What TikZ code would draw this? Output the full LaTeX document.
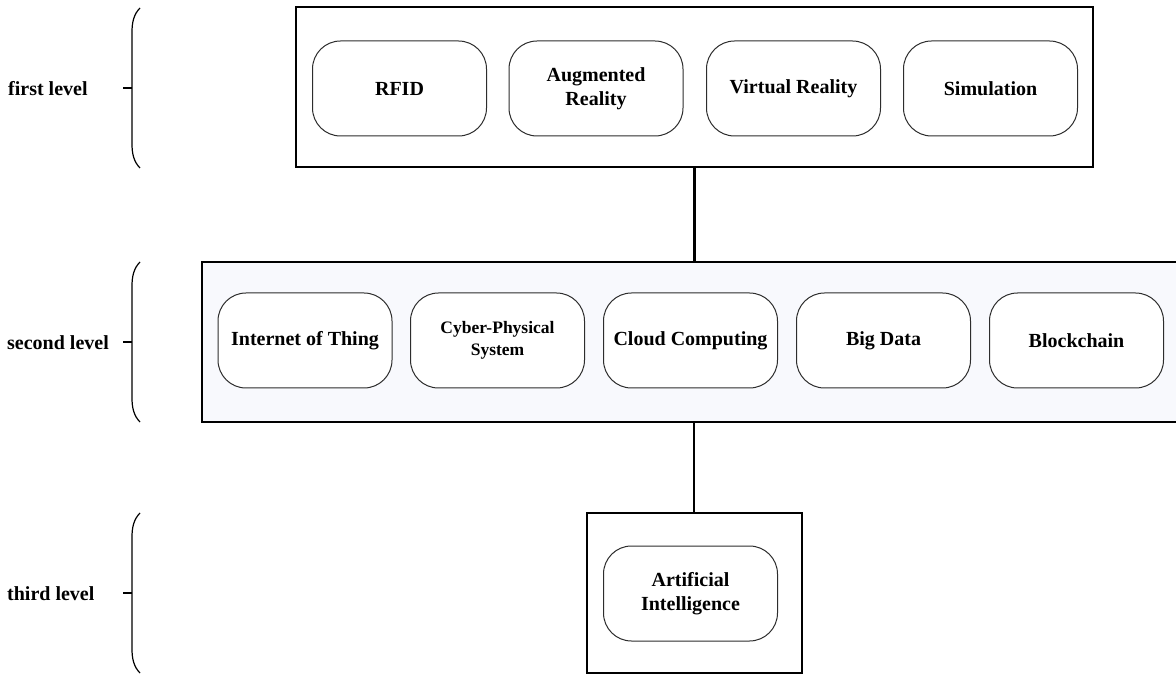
\documentclass[tikz,border=0pt]{standalone}
\usepackage{fontspec}
\setmainfont{Liberation Serif}
\definecolor{secbg}{RGB}{248,249,253}
\definecolor{boxline}{RGB}{45,45,45}
\begin{document}
\begin{tikzpicture}[x=1pt,y=-1pt,
  outerbox/.style={draw=black, line width=2pt, inner sep=0pt},
  techbox/.style={draw=boxline, line width=1pt, fill=white, rounded corners=28pt,
    minimum width=174pt, minimum height=95pt, align=center, inner sep=0pt,
    font=\bfseries\fontsize{20}{24}\selectfont},
  smalltext/.style={font=\bfseries\fontsize{17.5}{21.5}\selectfont},
  lvl/.style={anchor=west, inner sep=0pt, font=\bfseries\fontsize{20}{24}\selectfont},
  link/.style={line width=2.5pt},
  bracket/.style={line width=1.2pt}]
\clip (0,0) rectangle (1176,676);
\fill[white] (0,0) rectangle (1176,676);

% outer level boxes
\node[outerbox, minimum width=797pt, minimum height=160pt] (L1) at (694.5,87) {};
\node[outerbox, fill=secbg, minimum width=984pt, minimum height=160pt] (L2) at (694,342) {};
\node[outerbox, minimum width=215pt, minimum height=160pt] (L3) at (694.5,593) {};

% connectors
\draw[link] (L1.south) -- (L1.south |- L2.north);
\draw[link] (L2.south) -- (L2.south |- L3.north);

% first level
\node[techbox] (rfid) at (399.5,88.5) {RFID};
\node[techbox] (ar) at (596,88.5) {Augmented\\Reality};
\node[techbox] (vr) at (793.5,88.5) {Virtual Reality};
\node[techbox] (sim) at (990.5,88.5) {Simulation};

% second level
\node[techbox] (iot) at (305,340.5) {Internet of Thing};
\node[techbox, smalltext] (cps) at (497.5,340.5) {Cyber-Physical\\System};
\node[techbox] (cc) at (690.5,340.5) {Cloud Computing};
\node[techbox] (bd) at (883.5,340.5) {Big Data};
\node[techbox] (bc) at (1076.5,340.5) {Blockchain};

% third level
\node[techbox] (ai) at (690.5,593.5) {Artificial\\Intelligence};

% level labels
\node[lvl] (lab1) at (8,89) {first level};
\node[lvl] (lab2) at (7,343) {second level};
\node[lvl] (lab3) at (7,594) {third level};

% brackets
\foreach \t/\b in {8/168, 262/422, 513/673} {
  \draw[bracket] (140,\t) .. controls (134,\t+6) and (132,\t+14) .. (132,\t+24)
    -- (132,\b-24) .. controls (132,\b-14) and (134,\b-6) .. (140,\b);
  \draw[bracket] (123,{(\t+\b)/2}) -- (132,{(\t+\b)/2});
}
\end{tikzpicture}
\end{document}
